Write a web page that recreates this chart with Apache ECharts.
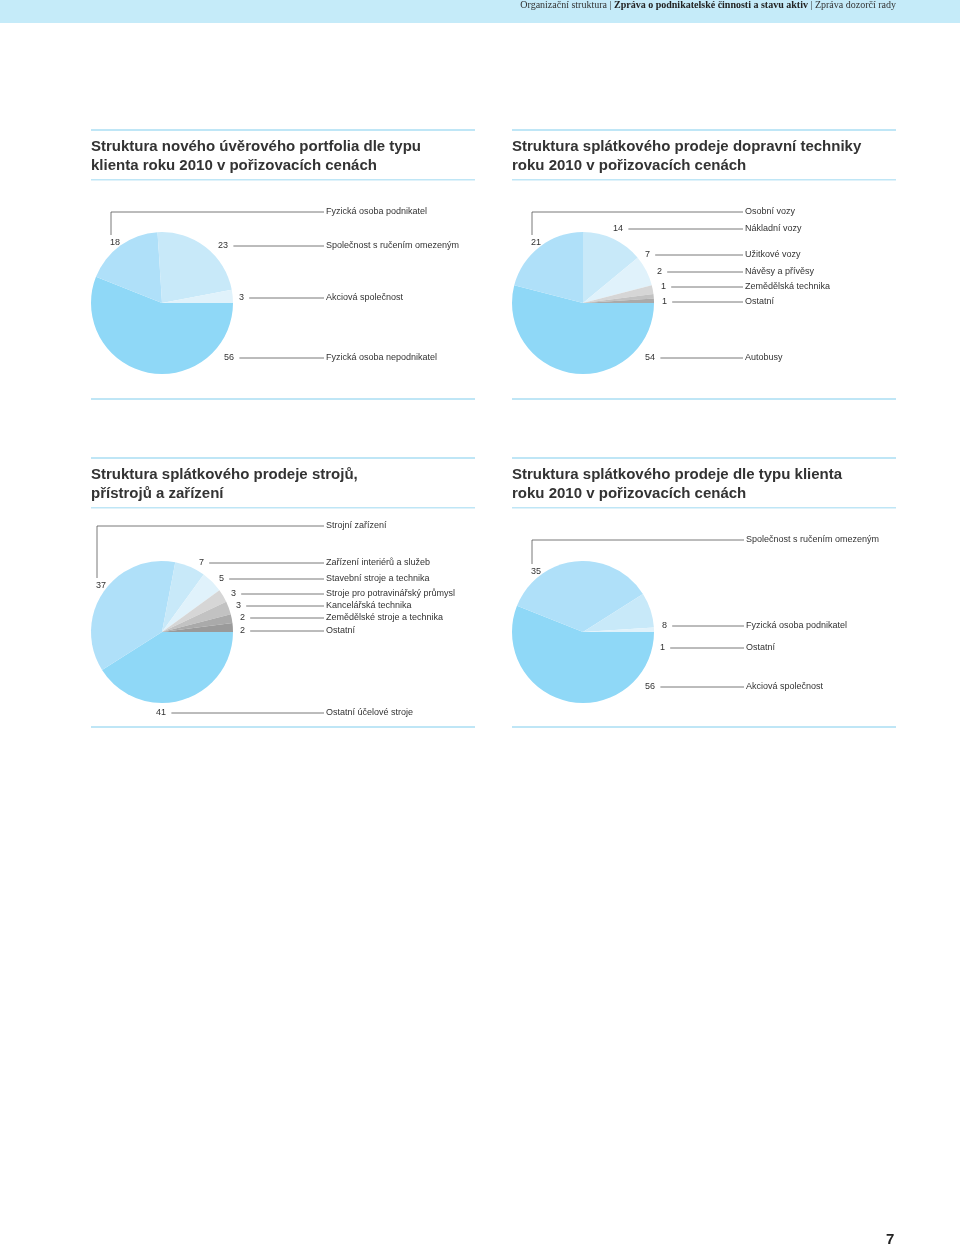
<!DOCTYPE html>
<html><head><meta charset="utf-8">
<script src="https://cdn.jsdelivr.net/npm/echarts@6/dist/echarts.min.js"></script>
<style>html,body{margin:0;padding:0;background:#fff}#c{width:960px;height:1248px}</style>
</head><body><div id="c"></div>
<script>
// data (values in %, clockwise from 3 o'clock)
const names1 = ["Fyzická osoba nepodnikatel", "Fyzická osoba podnikatel", "Společnost s ručením omezeným", "Akciová společnost"];
const values1 = [56, 18, 23, 3];
const names2 = ["Autobusy", "Osobní vozy", "Nákladní vozy", "Užitkové vozy", "Návěsy a přívěsy", "Zemědělská technika", "Ostatní"];
const values2 = [54, 21, 14, 7, 2, 1, 1];
const names3 = ["Ostatní účelové stroje", "Strojní zařízení", "Zařízení interiérů a služeb", "Stavební stroje a technika", "Stroje pro potravinářský průmysl", "Kancelářská technika", "Zemědělské stroje a technika", "Ostatní"];
const values3 = [41, 37, 7, 5, 3, 3, 2, 2];
const names4 = ["Akciová společnost", "Společnost s ručením omezeným", "Fyzická osoba podnikatel", "Ostatní"];
const values4 = [56, 35, 8, 1];
const titles = [
  ["Struktura nového úvěrového portfolia dle typu", "klienta roku 2010 v pořizovacích cenách"],
  ["Struktura splátkového prodeje dopravní techniky", "roku 2010 v pořizovacích cenách"],
  ["Struktura splátkového prodeje strojů,", "přístrojů a zařízení"],
  ["Struktura splátkového prodeje dle typu klienta", "roku 2010 v pořizovacích cenách"]
];

const colors = ["#8fd8f7", "#afe0f9", "#c8e9f9", "#e0f2fb", "#d6d6d6", "#c2c2c2", "#aaaaaa", "#9a9a9a"];

// label layout per chart: [numX, numY, nameY, vertical?] in the same order as data
const lay1 = { nameX: 326, items: [[224, 358, 358], [110, 243, 212, 1], [218, 246, 246], [239, 298, 298]] };
const lay2 = { nameX: 745, items: [[645, 358, 358], [531, 243, 212, 1], [613, 229, 229], [645, 255, 255], [657, 272, 272], [661, 287, 287], [662, 302, 302]] };
const lay3 = { nameX: 326, items: [[156, 713, 713], [96, 586, 526, 1], [199, 563, 563], [219, 579, 579], [231, 594, 594], [236, 606, 606], [240, 618, 618], [240, 631, 631]] };
const lay4 = { nameX: 746, items: [[645, 687, 687], [531, 572, 540, 1], [662, 626, 626], [660, 648, 648]] };

const charts = [
  { names: names1, values: values1, c: [162, 303], lay: lay1 },
  { names: names2, values: values2, c: [583, 303], lay: lay2 },
  { names: names3, values: values3, c: [162, 632], lay: lay3 },
  { names: names4, values: values4, c: [583, 632], lay: lay4 }
];

const font = "Liberation Sans, Arial, sans-serif";
const graphic = [];
const lineStyle = { stroke: "#555", lineWidth: 0.8 };
const blue = "#bfe6f6";

// header band
graphic.push({ type: "rect", shape: { x: 0, y: 0, width: 960, height: 23 }, style: { fill: "#c5ebf9" } });
graphic.push({ type: "text", right: 64, top: 0, style: { rich: {
  n: { fontFamily: "Liberation Serif, serif", fontSize: 10, fill: "#333" },
  b: { fontFamily: "Liberation Serif, serif", fontSize: 10, fill: "#222", fontWeight: "bold" } },
  text: "{n|Organizační struktura | }{b|Zpráva o podnikatelské činnosti a stavu aktiv}{n| | Zpráva dozorčí rady}", y: 0 }, x: 0, y: 5 });

// titles and separators
const blocks = [[91, 129], [512, 129], [91, 457], [512, 457]];
blocks.forEach(([x, y], i) => {
  graphic.push({ type: "rect", shape: { x: x, y: y, width: 384, height: 2 }, style: { fill: blue } });
  graphic.push({ type: "text", x: x, y: y + 8, style: { text: titles[i].join("\n"), font: "bold 15px " + font, fill: "#333", lineHeight: 19 } });
  graphic.push({ type: "rect", shape: { x: x, y: y + 50, width: 384, height: 1.5 }, style: { fill: blue } });
  graphic.push({ type: "rect", shape: { x: x, y: y + 269, width: 384, height: 2 }, style: { fill: blue } });
});
graphic.push({ type: "text", x: 886, y: 1232, style: { text: "7", font: "bold 15px " + font, fill: "#222" } });

// labels with leader lines
charts.forEach(ch => {
  ch.lay.items.forEach((it, i) => {
    const [nx, ny, my, vert] = it;
    const label = String(ch.values[i]);
    graphic.push({ type: "text", x: nx, y: ny, style: { text: label, font: "9px " + font, fill: "#333", verticalAlign: "middle" } });
    graphic.push({ type: "text", x: ch.lay.nameX, y: my, style: { text: ch.names[i], font: "9px " + font, fill: "#333", verticalAlign: "middle" } });
    if (vert) {
      graphic.push({ type: "polyline", shape: { points: [[nx + 1, ny - 8], [nx + 1, my], [ch.lay.nameX - 2, my]] }, style: Object.assign({ fill: null }, lineStyle) });
    } else {
      const w = label.length * 5.2;
      graphic.push({ type: "line", shape: { x1: nx + w + 5, y1: ny, x2: ch.lay.nameX - 2, y2: my }, style: lineStyle });
    }
  });
});

const series = charts.map(ch => ({
  type: "pie",
  center: ch.c,
  radius: 71,
  startAngle: 0,
  clockwise: true,
  silent: true,
  label: { show: false },
  labelLine: { show: false },
  itemStyle: { borderWidth: 0 },
  data: ch.values.map((v, i) => ({ name: ch.names[i], value: v, itemStyle: { color: colors[i] } }))
}));

const chart = echarts.init(document.getElementById("c"));
chart.setOption({ animation: false, series: series, graphic: graphic });
</script>
</body></html>
